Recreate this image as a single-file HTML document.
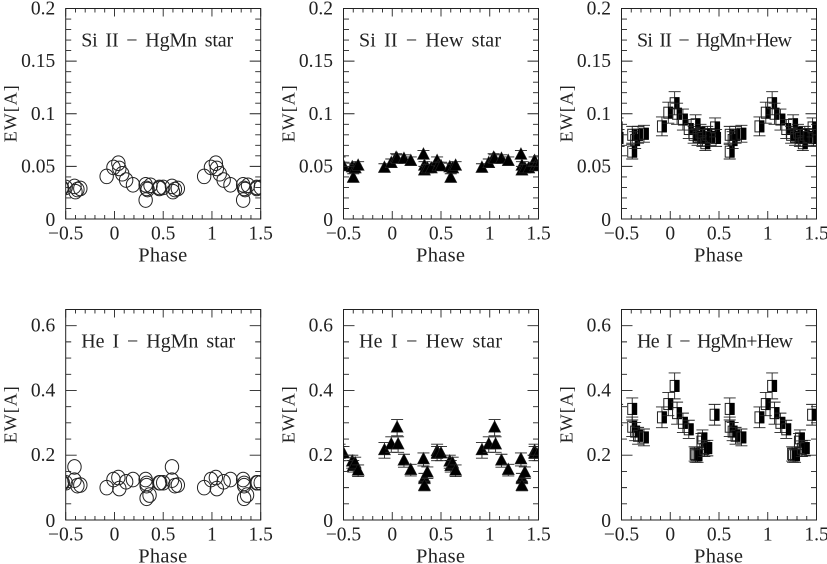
<!DOCTYPE html>
<html>
<head>
<meta charset="utf-8">
<title>EW vs Phase</title>
<style>
html,body{margin:0;padding:0;background:#fff;width:827px;height:564px;overflow:hidden}
svg{display:block}
text{font-family:"Liberation Serif",serif;fill:#222}
</style>
</head>
<body>
<svg id="fig" width="827" height="564" viewBox="0 0 827 564" xmlns="http://www.w3.org/2000/svg"></svg>
<script>
// ----- data -----
const xTicks = [-0.5, 0, 0.5, 1, 1.5];
const yTicksTop = [0, 0.05, 0.1, 0.15, 0.2];
const yLabelsTop = ['0', '0.05', '0.1', '0.15', '0.2'];
const yTicksBottom = [0, 0.2, 0.4, 0.6];
const yLabelsBottom = ['0', '0.2', '0.4', '0.6'];

const siHgMnPhase = [-0.08,-0.01,0.04,0.05,0.08,0.12,0.19,0.32,0.32,0.33,0.34,0.37,0.46,0.46,0.50,0.59,0.60,0.62,0.65];
const siHgMnEW = [0.0405,0.049,0.053,0.048,0.043,0.037,0.0325,0.018,0.0325,0.029,0.028,0.032,0.029,0.03,0.03,0.031,0.026,0.028,0.029];

const siHewPhase = [-0.08,-0.01,0.04,0.05,0.12,0.19,0.32,0.33,0.33,0.36,0.40,0.46,0.47,0.50,0.59,0.60,0.62,0.65];
const siHewEW = [0.0485,0.053,0.058,0.057,0.057,0.055,0.061,0.0505,0.046,0.048,0.048,0.055,0.05,0.05,0.049,0.039,0.048,0.0505];
const siHewErr = [0.004,0.004,0.004,0.004,0.004,0.004,0.004,0.004,0.004,0.004,0.004,0.004,0.004,0.004,0.004,0.004,0.004,0.004];

const siBothPhase = [-0.085,-0.02,0.045,0.07,0.13,0.19,0.24,0.26,0.28,0.31,0.33,0.36,0.38,0.41,0.46,0.47,0.61,0.61,0.64,0.67,0.73];
const siBothEW = [0.088,0.101,0.11,0.1,0.0945,0.0855,0.08,0.09,0.078,0.082,0.077,0.072,0.08,0.078,0.087,0.077,0.08,0.064,0.075,0.08,0.081];
const siBothErr = [0.009,0.01,0.011,0.01,0.01,0.009,0.008,0.009,0.008,0.008,0.008,0.007,0.008,0.008,0.009,0.008,0.008,0.007,0.008,0.008,0.008];

const heHgMnPhase = [-0.08,-0.01,0.04,0.05,0.12,0.19,0.32,0.33,0.33,0.33,0.36,0.46,0.47,0.50,0.59,0.59,0.62,0.65];
const heHgMnEW = [0.1,0.125,0.131,0.097,0.118,0.125,0.125,0.113,0.106,0.067,0.077,0.115,0.115,0.115,0.164,0.123,0.106,0.108];

const heHewPhase = [-0.08,-0.01,0.05,0.06,0.12,0.19,0.32,0.33,0.33,0.36,0.46,0.46,0.50,0.59,0.60,0.62,0.65];
const heHewEW = [0.215,0.233,0.285,0.233,0.183,0.154,0.187,0.128,0.105,0.146,0.212,0.205,0.205,0.18,0.166,0.174,0.152];
const heHewErr = [0.024,0.024,0.025,0.024,0.02,0.018,0.02,0.016,0.015,0.018,0.022,0.022,0.022,0.02,0.018,0.02,0.018];

const heBothPhase = [-0.085,-0.02,0.045,0.07,0.13,0.19,0.25,0.26,0.28,0.32,0.33,0.35,0.38,0.455,0.61,0.61,0.64,0.67,0.73];
const heBothEW = [0.317,0.358,0.414,0.33,0.3,0.28,0.204,0.2,0.2,0.242,0.252,0.22,0.222,0.325,0.343,0.288,0.273,0.26,0.255];
const heBothErr = [0.032,0.036,0.04,0.034,0.03,0.028,0.022,0.022,0.022,0.025,0.026,0.024,0.024,0.032,0.034,0.03,0.028,0.026,0.026];

const cycleOffsets = [-1, 0, 1];

// ----- drawing -----
const NS = 'http://www.w3.org/2000/svg';
const INK = '#222';
const fig = document.getElementById('fig');
function mk(parent, tag, attrs) {
  const el = document.createElementNS(NS, tag);
  for (const k in attrs) el.setAttribute(k, attrs[k]);
  parent.appendChild(el);
  return el;
}
const XMIN = -0.5, XMAX = 1.5, PW = 195;

function drawPanel(p, idx) {
  const g = mk(fig, 'g', {});
  
  
  const sx = v => p.left + (v - XMIN) / (XMAX - XMIN) * PW;
  const sy = v => p.bottom - v / p.ymax * p.height;
  const top = p.bottom - p.height;
  const right = p.left + PW;

  const cid = 'clip' + idx;
  const defs = mk(g, 'defs', {});
  const cp = mk(defs, 'clipPath', {id: cid});
  mk(cp, 'rect', {x: p.left, y: top, width: PW, height: p.height});

  // series
  const s = mk(g, 'g', {'clip-path': 'url(#' + cid + ')'});
  
  
  cycleOffsets.forEach(off => {
    p.phase.forEach((ph, i) => {
      const x = sx(ph + off), y = sy(p.ew[i]);
      if (x < p.left - 10 || x > right + 10) return;
      if (p.err) {
        const e = p.err[i];
        const bar = mk(s, 'path', {
          d: 'M' + x + ' ' + sy(p.ew[i] + e) + 'V' + sy(p.ew[i] - e) +
             'M' + (x - 6) + ' ' + sy(p.ew[i] + e) + 'h12' +
             'M' + (x - 6) + ' ' + sy(p.ew[i] - e) + 'h12',
          fill: 'none', stroke: INK, 'stroke-width': 0.9
        });
        
        
      }
      if (p.marker === 'circle') {
        const m = mk(s, 'ellipse', {cx: x, cy: y, rx: 6.7, ry: 7.3, fill: 'none', stroke: INK, 'stroke-width': 1});
        
        
      } else if (p.marker === 'triangle') {
        const m = mk(s, 'path', {d: 'M' + x + ' ' + (y - 7) + 'L' + (x + 6) + ' ' + (y + 4.5) + 'H' + (x - 6) + 'Z', fill: '#000', stroke: INK, 'stroke-width': 0.6});
        
        
      } else {
        const m = mk(s, 'rect', {x: x - 4.5, y: y - 5.5, width: 9, height: 11, fill: 'none', stroke: INK, 'stroke-width': 1});
        
        
        const f = mk(s, 'rect', {x: x - 0.3, y: y - 6, width: 5.1, height: 12, fill: '#000'});
        
        
      }
    });
  });

  // frame
  const frame = mk(g, 'rect', {x: p.left, y: top, width: PW, height: p.height, fill: 'none', stroke: INK, 'stroke-width': 1});
  
  

  // ticks
  let d = '';
  for (let i = 0; i <= 20; i++) {
    const x = sx(XMIN + i * 0.1);
    const len = i % 5 === 0 ? 8 : 4;
    d += 'M' + x + ' ' + p.bottom + 'v' + (-len) + 'M' + x + ' ' + top + 'v' + len;
  }
  const n = Math.round(p.ymax / p.yMinor);
  for (let i = 0; i <= n; i++) {
    const y = sy(i * p.yMinor);
    const len = i % p.yEvery === 0 ? 11 : 5.5;
    d += 'M' + p.left + ' ' + y + 'h' + len + 'M' + right + ' ' + y + 'h' + (-len);
  }
  const ticks = mk(g, 'path', {d: d, fill: 'none', stroke: INK, 'stroke-width': 0.9});
  
  

  // x tick labels
  xTicks.forEach(v => {
    const t = mk(g, 'text', {x: sx(v), y: p.bottom + 20.5, 'text-anchor': 'middle', 'font-size': 19.5});
    
    
    t.textContent = v < 0 ? '\u2212' + Math.abs(v) : String(v);
  });
  // y tick labels
  p.yTicks.forEach((v, i) => {
    const t = mk(g, 'text', {x: p.left - 10.5, y: sy(v) + (v === 0 ? 7 : 6), 'text-anchor': 'end', 'font-size': 19.5});
    
    
    t.textContent = p.yLabels[i];
  });
  // x title
  const xt = mk(g, 'text', {x: p.left + PW / 2 - 0.5, y: p.bottom + 42.5, 'text-anchor': 'middle', 'font-size': 20.5, textLength: 49, lengthAdjust: 'spacing'});
  
  
  xt.textContent = 'Phase';
  // y title
  const cy = p.bottom - p.height / 2;
  const yt = mk(g, 'text', {transform: 'translate(' + (p.left - 49) + ' ' + cy + ') rotate(-90)', 'text-anchor': 'middle', 'font-size': 18, textLength: 57, lengthAdjust: 'spacing'});
  
  
  yt.textContent = 'EW[A]';
  // annotation
  const ann = mk(g, 'text', {x: p.left + 15.5, y: top + 38, 'font-size': 20, 'word-spacing': 3, textLength: p.titleW, lengthAdjust: 'spacing'});
  
  
  ann.textContent = p.title;
}

const panels = [
  {name:'panel-si-hgmn', left:65.7, bottom:219, height:210.5, ymax:0.2, yMinor:0.01, yEvery:5, yTicks:yTicksTop, yLabels:yLabelsTop, phase:siHgMnPhase, ew:siHgMnEW, marker:'circle', title:'Si II \u2212 HgMn star', titleW:152},
  {name:'panel-si-hew', left:343.5, bottom:219, height:210.5, ymax:0.2, yMinor:0.01, yEvery:5, yTicks:yTicksTop, yLabels:yLabelsTop, phase:siHewPhase, ew:siHewEW, err:siHewErr, marker:'triangle', title:'Si II \u2212 Hew star', titleW:142},
  {name:'panel-si-both', left:621.5, bottom:219, height:210.5, ymax:0.2, yMinor:0.01, yEvery:5, yTicks:yTicksTop, yLabels:yLabelsTop, phase:siBothPhase, ew:siBothEW, err:siBothErr, marker:'square', title:'Si II \u2212 HgMn+Hew', titleW:155},
  {name:'panel-he-hgmn', left:65.7, bottom:520, height:210.5, ymax:0.65, yMinor:0.05, yEvery:4, yTicks:yTicksBottom, yLabels:yLabelsBottom, phase:heHgMnPhase, ew:heHgMnEW, marker:'circle', title:'He I \u2212 HgMn star', titleW:154},
  {name:'panel-he-hew', left:343.5, bottom:520, height:210.5, ymax:0.65, yMinor:0.05, yEvery:4, yTicks:yTicksBottom, yLabels:yLabelsBottom, phase:heHewPhase, ew:heHewEW, err:heHewErr, marker:'triangle', title:'He I \u2212 Hew star', titleW:143},
  {name:'panel-he-both', left:621.5, bottom:520, height:210.5, ymax:0.65, yMinor:0.05, yEvery:4, yTicks:yTicksBottom, yLabels:yLabelsBottom, phase:heBothPhase, ew:heBothEW, err:heBothErr, marker:'square', title:'He I \u2212 HgMn+Hew', titleW:156}
];
panels.forEach(drawPanel);
</script>
</body>
</html>
